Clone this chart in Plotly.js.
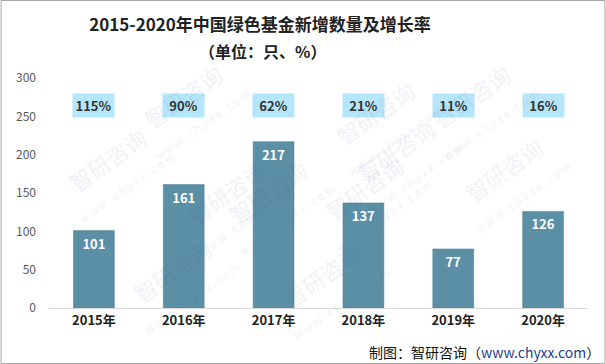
<!DOCTYPE html>
<html><head><meta charset="utf-8">
<script src="https://cdn.plot.ly/plotly-3.0.1.min.js"></script>
<style>html,body{margin:0;padding:0;background:#fff;}#chart{width:606px;height:364px;}</style>
</head><body><div id="chart"></div>
<script>
const years = ["2015年","2016年","2017年","2018年","2019年","2020年"];
const counts = [101,161,217,137,77,126];
const growth = ["115%","90%","62%","21%","11%","16%"];
const growthLevel = 264;

const cjk = '"Microsoft YaHei","Noto Sans CJK SC",sans-serif';

const annotations = [];
years.forEach((y,i)=>{
  annotations.push({x:y, y:growthLevel, xref:'x', yref:'y', text:'<b>'+growth[i]+'</b>', showarrow:false,
    bgcolor:'#b5e6fb', width:37, height:19, borderpad:2, font:{family:cjk,size:13,color:'#333'}});
});
annotations.push({xref:'paper',yref:'paper',x:(262-48.5)/540,y:(308-51)/230,yanchor:'middle',showarrow:false,
  text:'<b>（单位：只、%）</b>', font:{family:cjk,size:16,color:'#222'}});
// footer
annotations.push({xref:'paper',yref:'paper',x:(603-48.5)/540,y:(308-352)/230,xanchor:'right',yanchor:'middle',showarrow:false,
  text:'制图：智研咨询（<span style="color:#1f3f8f">www.chyxx.com</span>）', font:{family:cjk,size:14,color:'#111'}});
// watermarks
const wm = [[0.14,1.13],[0.62,1.06],[0.92,1.13],[0.0,0.6],[0.42,0.72],[0.78,0.64],[0.22,0.2],[0.6,0.22],[0.98,0.3],[0.12,-0.14],[0.52,-0.16]];
wm.forEach(p=>annotations.push({xref:'paper',yref:'paper',x:p[0],y:p[1],showarrow:false,textangle:-35,
  text:'智研咨询<br><span style="font-size:11px">w w w . c h y x x . c o m</span>', opacity:0.08,
  font:{family:cjk,size:22,color:'#3a5a9a'}}));

Plotly.newPlot('chart',[{
  type:'bar', x:years, y:counts, marker:{color:'#5b8fa6', line:{color:'#4d7d94',width:0.5}},
  width:0.455, text:counts.map(v=>'<b>'+v+'</b>'), textposition:'inside', insidetextanchor:'end',
  textfont:{family:cjk,size:13,color:'#fff'}, hoverinfo:'skip', cliponaxis:false
}],{
  width:606, height:364,
  margin:{l:48.5, r:17.5, t:78, b:56},
  paper_bgcolor:'#fff', plot_bgcolor:'#fff',
  title:{text:'<b>2015-2020年中国绿色基金新增数量及增长率</b>', x:260/606, xanchor:'center', yref:'container', y:(364-25)/364, yanchor:'middle',
    font:{family:cjk,size:17,color:'#222'}},
  xaxis:{showline:true, linecolor:'#d9d9d9', linewidth:1, ticks:'', tickfont:{family:cjk,size:13,color:'#222'},
    showgrid:false, tickprefix:'<b>', ticksuffix:'</b>', fixedrange:true},
  yaxis:{range:[0,300], dtick:50, showgrid:false, zeroline:false, showline:false, ticks:'',
    tickfont:{family:cjk,size:12,color:'#595959'}, ticklabelstandoff:12, fixedrange:true},
  showlegend:false,
  annotations:annotations,
  shapes:[{type:'rect',xref:'paper',yref:'paper',x0:(0.5-48.5)/540,x1:(605.5-48.5)/540,y0:(308-363.5)/230,y1:(308-0.5)/230,line:{color:'#a6a6a6',width:1}}]
},{displayModeBar:false, staticPlot:true});
</script></body></html>
